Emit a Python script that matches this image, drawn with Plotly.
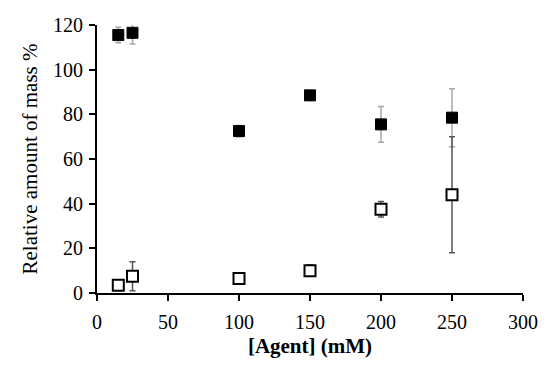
import plotly.graph_objects as go

agent = [15, 25, 100, 150, 200, 250]
filled_vals = [115.5, 116.5, 72.5, 88.5, 75.5, 78.5]
filled_err = [3.5, 5.0, 2.5, 1.0, 8.0, 13.0]
open_vals = [3.5, 7.5, 6.5, 10.0, 37.5, 44.0]
open_err = [1.0, 6.5, 1.0, 2.5, 3.5, 26.0]

fig = go.Figure()
fig.add_trace(go.Scatter(
    x=agent, y=filled_vals, mode="markers",
    marker=dict(symbol="square", size=11, color="black", line=dict(color="black", width=1)),
    error_y=dict(type="data", array=filled_err, color="#a8a8a8", thickness=1.5, width=3),
    showlegend=False, cliponaxis=False))
fig.add_trace(go.Scatter(
    x=agent, y=open_vals, mode="markers",
    marker=dict(symbol="square", size=11, color="white", line=dict(color="black", width=2)),
    error_y=dict(type="data", array=open_err, color="#555555", thickness=1.5, width=3),
    showlegend=False, cliponaxis=False))

font_family = "Liberation Serif, DejaVu Serif, serif"
fig.update_layout(
    width=542, height=359,
    margin=dict(l=89, r=27, t=17, b=74),
    plot_bgcolor="white", paper_bgcolor="white",
    font=dict(family=font_family, size=20, color="black"),
    xaxis=dict(range=[0, 300], tickvals=[0, 50, 100, 150, 200, 250, 300],
               showline=True, linecolor="black", linewidth=2, ticks="outside",
               ticklen=6, tickwidth=2, tickcolor="black", showgrid=False, zeroline=False,
               automargin=False, ticklabelstandoff=4,
               title=dict(text="<b>[Agent] (mM)</b>", standoff=6, font=dict(size=21)),
               tickfont=dict(size=20)),
    yaxis=dict(range=[0, 120], tickvals=[0, 20, 40, 60, 80, 100, 120],
               showline=True, linecolor="black", linewidth=2, ticks="outside",
               ticklen=6, tickwidth=2, tickcolor="black", showgrid=False, zeroline=False,
               automargin=False, ticklabelstandoff=2,
               title=dict(text="Relative amount of mass %", standoff=10, font=dict(size=21)),
               tickfont=dict(size=20)),
)
fig.write_html("out.html")
